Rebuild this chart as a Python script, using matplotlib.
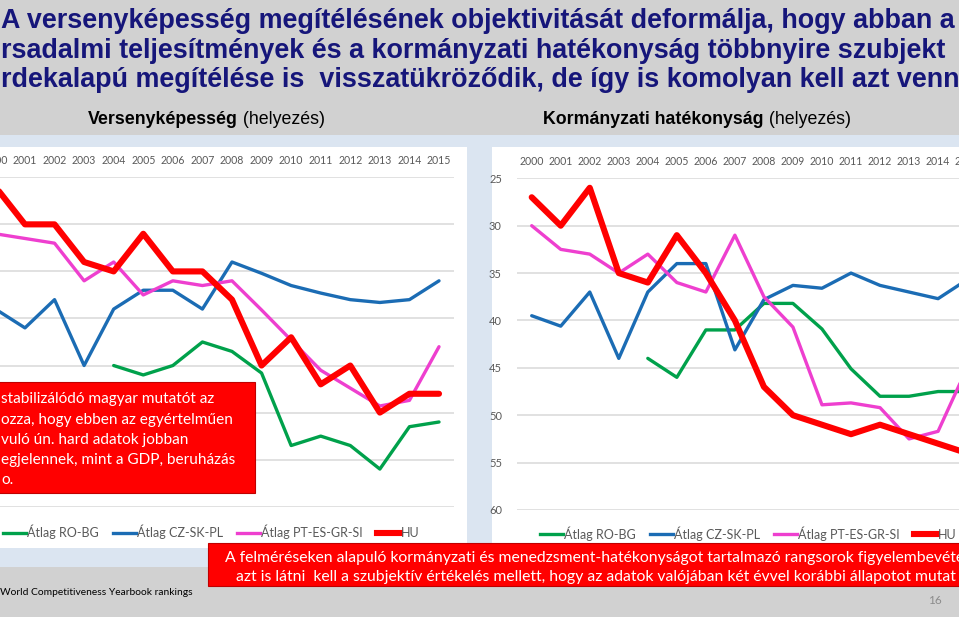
import numpy as np
import matplotlib
matplotlib.use('Agg')
import matplotlib.pyplot as plt
from matplotlib.patches import Rectangle
from matplotlib.lines import Line2D

plt.rcParams['font.family'] = ['Lato', 'DejaVu Sans']

W, H = 959, 617

# ---------------- data ----------------
years = list(range(2000, 2016))
year_labels = [str(y) for y in years]
series_names = ['Átlag RO-BG', 'Átlag CZ-SK-PL', 'Átlag PT-ES-GR-SI', 'HU']
nan = np.nan

# Versenyképesség (helyezés)
comp_ro_bg = [nan, nan, nan, nan, 45.0, 46.0, 45.0, 42.5, 43.5, 45.8, 53.5, 52.5, 53.5, 56.0, 51.5, 51.0]
comp_cz_sk_pl = [39.0, 41.0, 38.0, 45.0, 39.0, 37.0, 37.0, 39.0, 34.0, 35.2, 36.5, 37.3, 38.0, 38.3, 38.0, 36.0]
comp_pt_es_gr_si = [31.0, 31.5, 32.0, 36.0, 34.0, 37.5, 36.0, 36.5, 36.0, 39.1, 42.3, 45.5, 47.4, 49.3, 48.7, 43.0]
comp_hu = [26, 30, 30, 34, 35, 31, 35, 35, 38, 45, 42, 47, 45, 50, 48, 48]

# Kormányzati hatékonyság (helyezés)
gov_ro_bg = [nan, nan, nan, nan, 44.0, 46.0, 41.0, 41.0, 38.2, 38.2, 40.9, 45.1, 48.0, 48.0, 47.5, 47.5]
gov_cz_sk_pl = [39.5, 40.6, 37.0, 44.0, 37.0, 34.0, 34.0, 43.1, 37.8, 36.3, 36.6, 35.0, 36.3, 37.0, 37.7, 35.7]
gov_pt_es_gr_si = [30.0, 32.5, 33.0, 35.0, 33.0, 36.0, 37.0, 31.0, 37.5, 40.7, 48.9, 48.7, 49.2, 52.5, 51.7, 45.0]
gov_hu = [27, 30, 26, 35, 36, 31, 35, 40, 47, 50, 51, 52, 51, 52, 53, 54]

y_ticks = [25, 30, 35, 40, 45, 50, 55, 60]

title_lines = [
    "A versenyképesség megítélésének objektivitását deformálja, hogy abban a",
    "rsadalmi teljesítmények és a kormányzati hatékonyság többnyire szubjekt",
    "rdekalapú megítélése is  visszatükröződik, de így is komolyan kell azt venn",
]
left_box_lines = [
    "stabilizálódó magyar mutatót az",
    "ozza, hogy ebben az egyértelműen",
    "vuló ún. hard adatok jobban",
    "egjelennek, mint a GDP, beruházás",
    "o.",
]
bottom_box_lines = [
    "A felméréseken alapuló kormányzati és menedzsment-hatékonyságot tartalmazó rangsorok figyelembevéte",
    "azt is látni  kell a szubjektív értékelés mellett, hogy az adatok valójában két évvel korábbi állapotot mutat",
]

# ---------------- style ----------------
colors = ['#00a14b', '#1b6cb4', '#ee3fcf', '#ff0000']
widths = [2.4, 2.4, 2.4, 4.4]
NAVY = '#16167a'
TXT = '#595959'

fig = plt.figure(figsize=(W / 100, H / 100), dpi=100)
fig.patch.set_facecolor('#d1d1d1')


def fx(px):
    return px / W


def fy(py):
    return 1 - py / H


def frect(x0, y0, x1, y1, **kw):
    r = Rectangle((fx(x0), fy(y1)), (x1 - x0) / W, (y1 - y0) / H,
                  transform=fig.transFigure, **kw)
    fig.patches.append(r)
    return r


# backgrounds
frect(-5, 135, W + 5, 567, facecolor='#dbe5f1', edgecolor='none', zorder=-10)
frect(-5, 147, 467, 548, facecolor='white', edgecolor='none', zorder=-9)
frect(492, 147, W + 5, 548, facecolor='white', edgecolor='none', zorder=-9)


def make_axes(rect_px, show_y):
    x0, x1, y0, y1 = rect_px
    ax = fig.add_axes([fx(x0), fy(y1), (x1 - x0) / W, (y1 - y0) / H])
    ax.set_facecolor('none')
    ax.set_xlim(-0.5, len(years) - 0.5)
    ax.set_ylim(60, 25)
    ax.set_yticks(y_ticks)
    ax.set_xticks(range(len(years)))
    ax.set_xticklabels(year_labels)
    ax.xaxis.tick_top()
    ax.tick_params(axis='x', length=0, pad=8, labelsize=7.6, labelcolor=TXT)
    ax.tick_params(axis='y', length=0, pad=11, labelsize=8, labelcolor=TXT,
                   labelleft=show_y)
    ax.grid(axis='y', color='#d9d9d9', lw=1.1)
    ax.set_axisbelow(True)
    for s in ax.spines.values():
        s.set_visible(False)
    return ax


# left chart: its y labels lie outside the visible slide area
axL = make_axes((-19.4, 453.8, 177.3, 506.7), False)
axR = make_axes((517.2, 981.6, 178.3, 510.0), True)

x = np.arange(len(years))
handle_sets = []
for ax, data in ((axL, [comp_ro_bg, comp_cz_sk_pl, comp_pt_es_gr_si, comp_hu]),
                 (axR, [gov_ro_bg, gov_cz_sk_pl, gov_pt_es_gr_si, gov_hu])):
    hs = []
    for vals, c, lw, name in zip(data, colors, widths, series_names):
        ln, = ax.plot(x, vals, color=c, lw=lw, solid_joinstyle='round',
                      solid_capstyle='round', label=name)
        hs.append(ln)
    handle_sets.append(hs)

for hs, (lx, ly) in zip(handle_sets, ((3, 531.7), (540, 533.3))):
    hh = [Line2D([], [], color=h.get_color(), lw=h.get_linewidth()) for h in hs]
    leg = fig.legend(hh, series_names, loc='center left',
                     bbox_to_anchor=(fx(lx), fy(ly)), bbox_transform=fig.transFigure,
                     ncol=4, frameon=False, handlelength=1.85, handletextpad=0.05,
                     columnspacing=1.15, borderpad=0, borderaxespad=0, fontsize=9.0)
    for t in leg.get_texts():
        t.set_color(TXT)

# title
for line, base in zip(title_lines, (28.0, 57.5, 87.0)):
    fig.text(fx(1), fy(base), line, ha='left', va='baseline', fontsize=19.4,
             fontweight='bold', color=NAVY, family=['Liberation Sans', 'DejaVu Sans'])

# subtitles: bold part + regular part
renderer = fig.canvas.get_renderer()
for xs, bold, reg in ((88, 'Versenyképesség', ' (helyezés)'),
                      (543, 'Kormányzati hatékonyság', ' (helyezés)')):
    tb = fig.text(fx(xs), fy(124.5), bold, ha='left', va='baseline', fontsize=12.8,
                  fontweight='bold', color='black',
                  family=['Liberation Sans', 'DejaVu Sans'])
    bb = tb.get_window_extent(renderer=renderer)
    fig.text(bb.x1 / W, fy(124.5), reg, ha='left', va='baseline', fontsize=12.8,
             color='black', family=['Liberation Sans', 'DejaVu Sans'])

# left red box
frect(-5, 381.7, 255, 493.3, facecolor='#ff0000', edgecolor='#c00000', lw=0.8, zorder=5)
for line, base in zip(left_box_lines, (403.3, 423.6, 444.0, 464.3, 484.0)):
    fig.text(fx(1), fy(base), line, ha='left', va='baseline', fontsize=11.1,
             color='white', zorder=6)

# bottom red box
frect(208, 543.3, W + 5, 586, facecolor='#ff0000', edgecolor='#c00000', lw=0.8, zorder=5)
for line, base, xs in zip(bottom_box_lines, (561.7, 580.5), (225, 236)):
    fig.text(fx(xs), fy(base), line, ha='left', va='baseline', fontsize=11.3,
             color='white', zorder=6)

# footer
fig.text(fx(0), fy(595), 'World Competitiveness Yearbook rankings', ha='left',
         va='baseline', fontsize=7.4, color='black')
fig.text(fx(935), fy(603.5), '16', ha='center', va='baseline', fontsize=8.5,
         color='#8c8c8c')

fig.savefig('out.png', dpi=100, facecolor=fig.get_facecolor())
